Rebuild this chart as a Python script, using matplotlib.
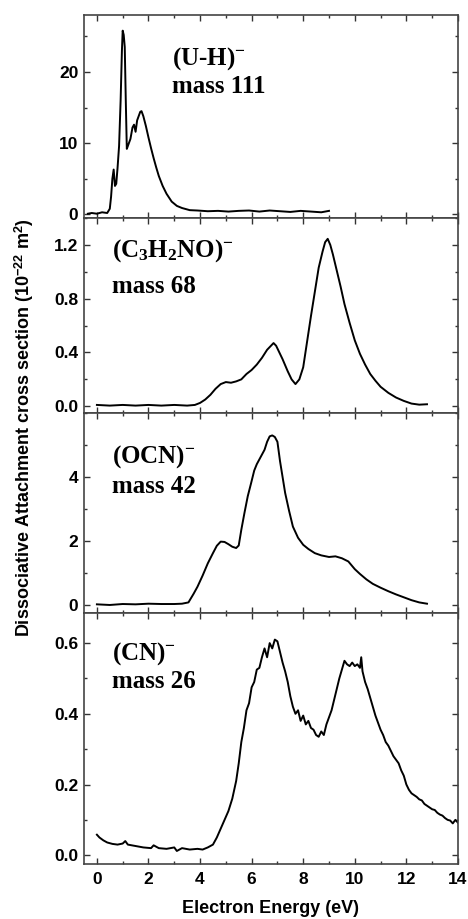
import matplotlib
matplotlib.use("Agg")
import matplotlib.pyplot as plt
from matplotlib.ticker import MultipleLocator

plt.rcParams["font.family"] = ["Liberation Sans", "DejaVu Sans"]
plt.rcParams["font.weight"] = "bold"
plt.rcParams["mathtext.fontset"] = "custom"
plt.rcParams["mathtext.rm"] = "Liberation Serif:bold"
plt.rcParams["mathtext.it"] = "Liberation Serif:bold"
plt.rcParams["mathtext.bf"] = "Liberation Serif:bold"

# (U-H)- , mass 111
x_uh = [-0.35, -0.2, 0.0, 0.2, 0.4, 0.5, 0.55, 0.6, 0.65, 0.7, 0.75, 0.8, 0.86, 0.92,
        0.97, 1.0, 1.04, 1.08, 1.12, 1.16, 1.22, 1.3, 1.38, 1.44, 1.5, 1.56, 1.62, 1.68,
        1.73, 1.8, 1.9, 2.0, 2.1, 2.2, 2.3, 2.4, 2.55, 2.7, 2.9, 3.1, 3.3, 3.6, 3.9, 4.3,
        4.7, 5.1, 5.5, 5.9, 6.3, 6.7, 7.1, 7.5, 7.9, 8.3, 8.7, 9.0]
y_uh = [0.1, 0.2, 0.1, 0.3, 0.2, 0.8, 2.5, 5.0, 6.3, 4.0, 4.3, 6.5, 9.6, 16.0,
        23.0, 25.8, 25.2, 23.5, 16.0, 9.2, 9.8, 10.6, 12.2, 12.6, 11.6, 13.2, 13.8, 14.4,
        14.5, 13.8, 12.4, 10.8, 9.3, 7.9, 6.6, 5.4, 4.0, 2.9, 1.8, 1.2, 0.9, 0.6, 0.55, 0.45,
        0.5, 0.4, 0.5, 0.55, 0.4, 0.55, 0.45, 0.35, 0.5, 0.4, 0.3, 0.5]

# (C3H2NO)- , mass 68
x_c3 = [0.0, 0.5, 1.0, 1.5, 2.0, 2.5, 3.0, 3.5, 3.8, 4.0, 4.2, 4.4, 4.6, 4.8, 5.0, 5.2,
        5.4, 5.6, 5.8, 6.0, 6.2, 6.4, 6.6, 6.75, 6.85, 6.95, 7.05, 7.2, 7.4, 7.55, 7.7,
        7.85, 8.0, 8.15, 8.3, 8.45, 8.6, 8.75, 8.85, 8.95, 9.05, 9.15, 9.3, 9.45, 9.6,
        9.8, 10.0, 10.2, 10.4, 10.6, 10.8, 11.0, 11.3, 11.6, 11.9, 12.2, 12.5, 12.8]
y_c3 = [0.01, 0.005, 0.01, 0.005, 0.01, 0.005, 0.01, 0.005, 0.01, 0.025, 0.05, 0.085,
        0.13, 0.165, 0.18, 0.175, 0.185, 0.2, 0.24, 0.27, 0.31, 0.36, 0.42, 0.45, 0.47,
        0.45, 0.41, 0.35, 0.26, 0.2, 0.165, 0.2, 0.29, 0.48, 0.67, 0.85, 1.03, 1.15,
        1.22, 1.245, 1.2, 1.13, 1.01, 0.89, 0.76, 0.62, 0.49, 0.39, 0.31, 0.24, 0.19,
        0.145, 0.1, 0.065, 0.04, 0.02, 0.012, 0.015]

# (OCN)- , mass 42
x_ocn = [0.0, 0.5, 1.0, 1.5, 2.0, 2.5, 3.0, 3.3, 3.55, 3.75, 3.9, 4.1, 4.3, 4.5, 4.65,
         4.8, 4.95, 5.1, 5.25, 5.4, 5.5, 5.6, 5.72, 5.85, 5.98, 6.1, 6.2, 6.3, 6.4, 6.5,
         6.6, 6.7, 6.8, 6.9, 7.0, 7.1, 7.2, 7.3, 7.45, 7.6, 7.8, 8.0, 8.2, 8.45, 8.7,
         9.0, 9.25, 9.5, 9.75, 10.0, 10.2, 10.45, 10.7, 11.0, 11.3, 11.6, 11.9, 12.2,
         12.5, 12.8]
y_ocn = [0.02, 0.0, 0.03, 0.02, 0.04, 0.03, 0.03, 0.04, 0.08, 0.35, 0.57, 0.92, 1.3,
         1.62, 1.85, 1.98, 1.97, 1.9, 1.82, 1.78, 1.86, 2.35, 2.87, 3.4, 3.81, 4.2, 4.4,
         4.55, 4.7, 4.85, 5.1, 5.27, 5.3, 5.25, 5.1, 4.5, 4.0, 3.5, 2.95, 2.45, 2.1,
         1.88, 1.75, 1.62, 1.55, 1.5, 1.52, 1.46, 1.36, 1.12, 0.97, 0.8, 0.66, 0.54,
         0.43, 0.33, 0.24, 0.15, 0.08, 0.04]

# (CN)- , mass 26
x_cn = [0.0, 0.1, 0.25, 0.4, 0.6, 0.8, 1.0, 1.1, 1.2, 1.5, 1.8, 2.1, 2.2, 2.4, 2.7, 3.0,
        3.1, 3.3, 3.6, 3.9, 4.1, 4.3, 4.5, 4.65, 4.8, 4.95, 5.1, 5.25, 5.4, 5.5, 5.6, 5.7,
        5.8, 5.9, 6.0, 6.1, 6.2, 6.3, 6.4, 6.5, 6.6, 6.7, 6.8, 6.9, 7.0, 7.1, 7.2, 7.3,
        7.4, 7.5, 7.6, 7.7, 7.8, 7.9, 8.0, 8.1, 8.2, 8.3, 8.4, 8.5, 8.6, 8.7, 8.8, 8.9,
        9.0, 9.1, 9.2, 9.3, 9.4, 9.5, 9.6, 9.7, 9.8, 9.9, 10.0, 10.1, 10.2, 10.25, 10.3,
        10.4, 10.5, 10.6, 10.7, 10.8, 10.9, 11.0, 11.1, 11.2, 11.3, 11.4, 11.5, 11.6,
        11.7, 11.8, 11.9, 12.0, 12.1, 12.2, 12.3, 12.4, 12.5, 12.6, 12.7, 12.8, 12.9,
        13.0, 13.1, 13.2, 13.3, 13.4, 13.5, 13.6, 13.7, 13.8, 13.9, 14.0]
y_cn = [0.058, 0.05, 0.042, 0.036, 0.032, 0.03, 0.033, 0.04, 0.03, 0.026, 0.022, 0.02,
        0.028, 0.02, 0.018, 0.022, 0.012, 0.02, 0.016, 0.018, 0.016, 0.022, 0.03, 0.05,
        0.075, 0.1, 0.125, 0.16, 0.21, 0.26, 0.32, 0.36, 0.41, 0.43, 0.475, 0.49, 0.525,
        0.53, 0.56, 0.585, 0.56, 0.6, 0.585, 0.61, 0.605, 0.575, 0.545, 0.52, 0.49, 0.45,
        0.42, 0.4, 0.41, 0.38, 0.395, 0.37, 0.38, 0.36, 0.355, 0.34, 0.335, 0.35, 0.34,
        0.37, 0.39, 0.41, 0.44, 0.47, 0.5, 0.525, 0.55, 0.54, 0.535, 0.545, 0.535, 0.54,
        0.53, 0.56, 0.52, 0.49, 0.47, 0.445, 0.42, 0.395, 0.375, 0.355, 0.34, 0.32, 0.31,
        0.295, 0.28, 0.27, 0.26, 0.24, 0.225, 0.2, 0.185, 0.175, 0.17, 0.165, 0.158,
        0.155, 0.145, 0.14, 0.135, 0.13, 0.128, 0.12, 0.115, 0.112, 0.105, 0.1, 0.098,
        0.09, 0.1, 0.092]

x_ticks = [0, 2, 4, 6, 8, 10, 12, 14]
ticks_uh = [0, 10, 20]
ticks_c3 = [0.0, 0.4, 0.8, 1.2]
ticks_ocn = [0, 2, 4]
ticks_cn = [0.0, 0.2, 0.4, 0.6]

ion_names = [r"(U-H)$^{\mathregular{-}}$",
             r"(C$_{\mathregular{3}}$H$_{\mathregular{2}}$NO)$^{\mathregular{-}}$",
             r"(OCN)$^{\mathregular{-}}$",
             r"(CN)$^{\mathregular{-}}$"]
mass_labels = ["mass 111", "mass 68", "mass 42", "mass 26"]

panels = [
    # x, y, ylim, ticks, minor step, tick format
    (x_uh, y_uh, (-0.5, 28), ticks_uh, 5, "{:.0f}"),
    (x_c3, y_c3, (-0.05, 1.4), ticks_c3, 0.2, "{:.1f}"),
    (x_ocn, y_ocn, (-0.25, 6), ticks_ocn, 1, "{:.0f}"),
    (x_cn, y_cn, (-0.025, 0.685), ticks_cn, 0.1, "{:.1f}"),
]

# label positions: x in data, baselines of both lines in axes fraction
label_pos = [(2.9, 0.754, 0.617), (0.6, 0.80, 0.615), (0.6, 0.75, 0.60), (0.6, 0.813, 0.70)]

# axes boxes in figure fraction: left, bottom, width, height
boxes = [
    (0.1795, 0.7628, 0.799, 0.2209),
    (0.1795, 0.5506, 0.799, 0.2122),
    (0.1795, 0.3330, 0.799, 0.2176),
    (0.1795, 0.0598, 0.799, 0.2731),
]

fig = plt.figure(figsize=(4.68, 9.19), dpi=100)

for i, (box, p) in enumerate(zip(boxes, panels)):
    x, y, ylim, yt, minor, fmt = p
    ax = fig.add_axes(box)
    ax.plot(x, y, color="black", lw=1.4)
    ax.set_xlim(-0.5, 14)
    ax.set_ylim(*ylim)
    ax.set_xticks(x_ticks)
    ax.set_yticks(yt)
    ax.set_yticklabels([fmt.format(v) for v in yt])
    ax.xaxis.set_minor_locator(MultipleLocator(1))
    ax.yaxis.set_minor_locator(MultipleLocator(minor))
    ax.tick_params(which="both", direction="in", top=True, right=True,
                   color="#333333", width=1.0)
    ax.tick_params(which="major", length=4, labelsize=12.5)
    ax.tick_params(axis="y", which="major", pad=4)
    ax.tick_params(axis="x", which="major", pad=6)
    ax.tick_params(which="minor", length=2)
    for s in ax.spines.values():
        s.set_color("#444444")
        s.set_linewidth(1.2)
    if i < 3:
        ax.tick_params(labelbottom=False)
    for lab in ax.get_xticklabels() + ax.get_yticklabels():
        lab.set_fontweight("bold")

    lx, ly1, ly2 = label_pos[i]
    tr = ax.get_xaxis_transform()
    ax.text(lx, ly1, ion_names[i], transform=tr, family="Liberation Serif",
            fontweight="bold", fontsize=18, va="baseline", ha="left")
    ax.text(lx, ly2, mass_labels[i], transform=tr, family="Liberation Serif",
            fontweight="bold", fontsize=18, va="baseline", ha="left")

    if i == 3:
        ax.set_xlabel("Electron Energy (eV)", fontsize=13, fontweight="bold", labelpad=9)

fig.text(0.051, 0.535,
         r"Dissociative Attachment cross section (10$^{\mathregular{-22}}$ m$^{\mathregular{2}}$)",
         rotation=90, ha="center", va="center", fontsize=13, fontweight="bold")

fig.savefig("out.png", dpi=100)
